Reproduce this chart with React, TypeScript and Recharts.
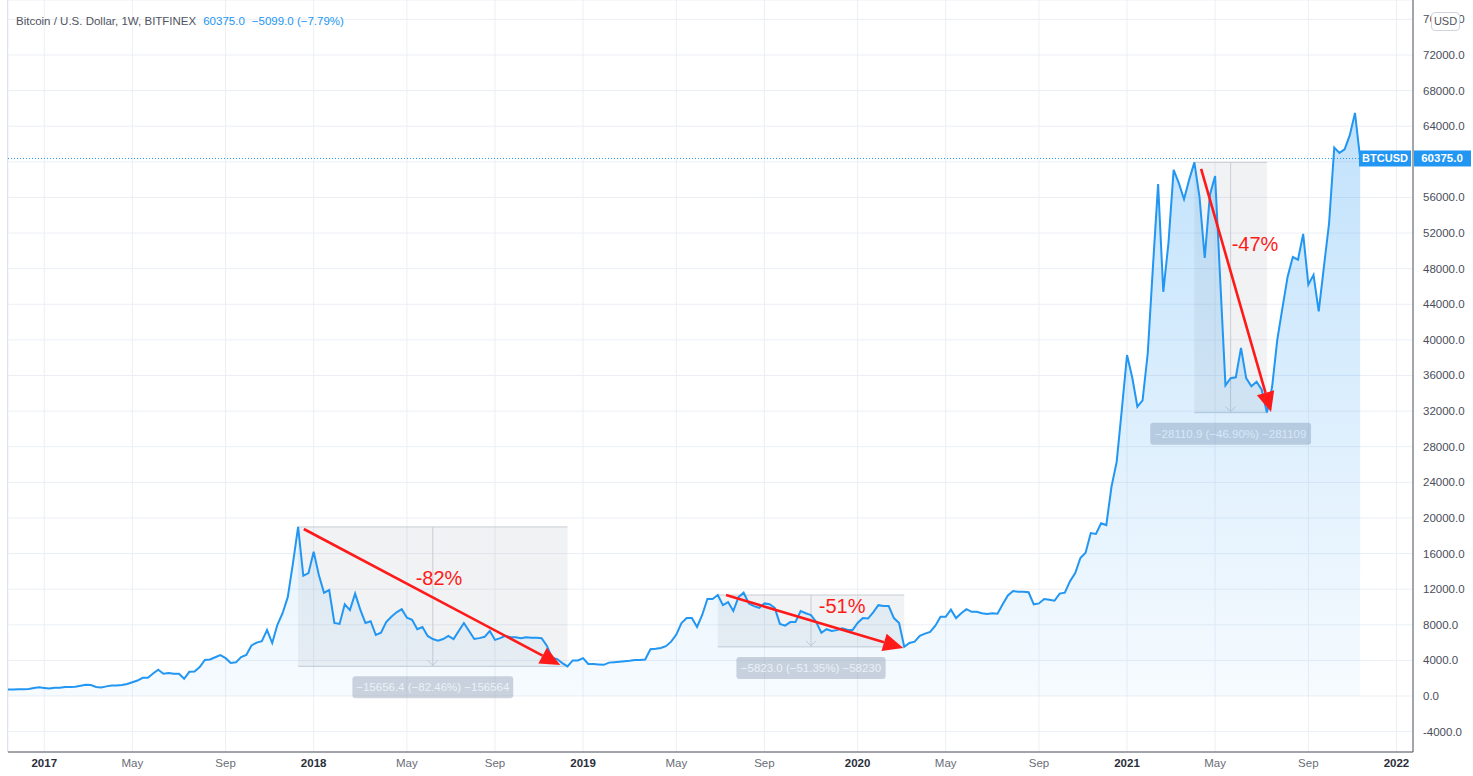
import React from "react";
import {
  ComposedChart,
  Area,
  XAxis,
  YAxis,
  CartesianGrid,
  ReferenceLine,
  ReferenceArea,
  ReferenceDot,
} from "recharts";

// weekly closes, BTC/USD Bitfinex, first bar = week of 14 Nov 2016
const closes = [
  740, 740, 765, 770, 780, 890, 970,
  900, 830, 920, 920, 1010, 1000, 1050,
  1150, 1270, 1230, 1020, 960, 1080, 1180,
  1180, 1240, 1350, 1550, 1740, 2050, 2050,
  2520, 2950, 2500, 2590, 2500, 2500, 1930,
  2720, 2760, 3250, 4050, 4100, 4350, 4590,
  4250, 3700, 3780, 4380, 4600, 5680, 6000,
  6150, 7400, 5950, 8000, 9300, 11100, 14900,
  18989, 13500, 13800, 16200, 13600, 11600, 11900,
  8200, 8100, 10300, 9650, 11500, 9700, 8200,
  8400, 6850, 7100, 8300, 8900, 9400, 9750,
  8800, 8550, 7500, 7750, 6750, 6400, 6200,
  6400, 6750, 6400, 7300, 8200, 7300, 6400,
  6500, 6650, 7300, 6300, 6500, 6750, 6600,
  6600, 6500, 6600, 6550, 6550, 6500, 5650,
  4300, 4150, 3700, 3333, 4000, 4000, 4250,
  3600, 3600, 3550, 3500, 3750, 3800, 3850,
  3900, 3950, 4050, 4050, 4100, 5250, 5300,
  5400, 5600, 6100, 6900, 8200, 8750, 8750,
  7750, 9100, 10900, 10900, 11340, 10200, 10550,
  9550, 11100, 11600, 10400, 10100, 9900, 10400,
  10300, 9900, 8100, 7900, 8300, 8300, 9550,
  9300, 9100, 8300, 7100, 7500, 7300, 7400,
  7600, 7450, 7400, 8200, 8750, 8700, 9400,
  10200, 10100, 10100, 8750, 8200, 5517, 5950,
  6100, 6750, 7000, 7200, 7900, 8900, 8900,
  9700, 8750, 9300, 9750, 9450, 9450, 9300,
  9200, 9300, 9250, 10300, 11300, 11800, 11700,
  11700, 11650, 10300, 10400, 10900, 10800, 10700,
  11500, 11600, 12900, 13800, 15500, 16100, 18300,
  18200, 19400, 19200, 23500, 26300, 32200, 38300,
  35800, 32500, 33200, 38500, 48200, 57500, 45400,
  50900, 59100, 57600, 55800, 58000, 59938, 56000,
  49200, 56300, 58400, 46600, 34900, 35700, 35800,
  39100, 35700, 34800, 35300, 34400, 31827, 34700,
  40000, 43600, 47100, 49300, 49000, 51900, 46200,
  47300, 43200, 48200, 53100, 61600, 61000, 61400,
  63000, 65500, 60375,
];

const tickWeeks = [7, 24, 42, 59, 77, 94, 111, 129, 146, 164, 181, 199, 216, 233, 251, 268];
const tickLabels = ["2017", "May", "Sep", "2018", "May", "Sep", "2019", "May", "Sep", "2020", "May", "Sep", "2021", "May", "Sep", "2022"];

const priceTicks = [
  -4000, 0, 4000, 8000, 12000, 16000, 20000, 24000, 28000, 32000, 36000,
  40000, 44000, 48000, 52000, 56000, 60000, 64000, 68000, 72000, 76000,
];

const lastPrice = 60375;

// price range drawings
const rangeStart = [56, 137, 229];
const rangeEnd = [108, 173, 243];
const rangeHigh = [18989, 11340, 59938];
const rangeLow = [3333, 5517, 31827];
const rangeLabels = [
  "\u221215656.4 (\u221282.46%) \u2212156564",
  "\u22125823.0 (\u221251.35%) \u221258230",
  "\u221228110.9 (\u221246.90%) \u2212281109",
];

// red arrows and their captions
const arrowFrom = [
  { w: 57.1, v: 18760 },
  { w: 138.6, v: 11340 },
  { w: 230.3, v: 59200 },
];
const arrowTo = [
  { w: 106.6, v: 3480 },
  { w: 172.8, v: 5390 },
  { w: 243.8, v: 31900 },
];
const dropLabels = ["-82%", "-51%", "-47%"];
const dropLabelAt = [
  { w: 83.2, v: 12470 },
  { w: 161, v: 9320 },
  { w: 240.7, v: 49980 },
];

const data = closes.map((v, i) => ({ w: i, v }));

const FONT = "'Liberation Sans', Arial, sans-serif";
const BLUE = "#2196f3";
const RED = "#ff1a1a";

function TimeTick({ x, y, payload }: any) {
  const i = tickWeeks.indexOf(payload.value);
  const label = tickLabels[i];
  const isYear = /^\d{4}$/.test(label);
  return (
    <text
      x={x}
      y={y + 4}
      textAnchor="middle"
      fontSize={11.5}
      fontFamily={FONT}
      fontWeight={isYear ? 600 : 400}
      fill={isYear ? "#2a2e39" : "#6a6d78"}
    >
      {label}
    </text>
  );
}

function PriceTick({ x, y, payload }: any) {
  // the last-price badge hides the tick label right under it
  if (Math.abs(payload.value - lastPrice) < 1000) return <g />;
  return (
    <text x={x} y={y + 4} textAnchor="start" fontSize={11.5} fontFamily={FONT} fill="#4a4e5a">
      {payload.value.toFixed(1)}
    </text>
  );
}

function RangeBox(props: any) {
  const { x, y, width, height, label } = props;
  const cx = x + width / 2;
  const bottom = y + height;
  const tw = label.length * 5.8 + 10;
  return (
    <g>
      <rect x={x} y={y} width={width} height={height} fill="rgba(120,123,134,0.1)" />
      <line x1={x} x2={x + width} y1={y} y2={y} stroke="#c8ccd4" />
      <line x1={x} x2={x + width} y1={bottom} y2={bottom} stroke="#c8ccd4" />
      <line x1={cx} x2={cx} y1={y} y2={bottom} stroke="#c8ccd4" />
      <polyline
        points={`${cx - 5},${bottom - 6} ${cx},${bottom - 1} ${cx + 5},${bottom - 6}`}
        fill="none"
        stroke="#c8ccd4"
      />
      <rect x={cx - tw / 2} y={bottom + 10} width={tw} height={22} rx={3} fill="rgba(150,160,178,0.45)" />
      <text
        x={cx}
        y={bottom + 25}
        textAnchor="middle"
        fontSize={11.5}
        fontFamily={FONT}
        fill="#f4f6f9"
      >
        {label}
      </text>
    </g>
  );
}

function Arrow(props: any) {
  const { x1, y1, x2, y2 } = props;
  const dx = x2 - x1;
  const dy = y2 - y1;
  const len = Math.hypot(dx, dy);
  const ux = dx / len;
  const uy = dy / len;
  const hl = 20;
  const hw = 9;
  const bx = x2 - ux * hl;
  const by = y2 - uy * hl;
  return (
    <g>
      <line x1={x1} y1={y1} x2={bx} y2={by} stroke={RED} strokeWidth={2.6} />
      <polygon
        points={`${x2},${y2} ${bx - uy * hw},${by + ux * hw} ${bx + uy * hw},${by - ux * hw}`}
        fill={RED}
      />
    </g>
  );
}

function PriceLine(props: any) {
  const left = Math.min(props.x1, props.x2);
  const right = Math.max(props.x1, props.x2);
  const y = props.y1;
  return (
    <g>
      <line x1={left} x2={right - 54} y1={y} y2={y} stroke={BLUE} strokeWidth={1} strokeDasharray="1 2" />
      <rect x={right - 54} y={y - 8} width={52} height={16} fill={BLUE} />
      <text x={right - 28} y={y + 4} textAnchor="middle" fontSize={11} fontWeight={700} fontFamily={FONT} fill="#fff">
        BTCUSD
      </text>
      <rect x={right + 1} y={y - 8} width={57} height={16} fill={BLUE} />
      <text x={right + 29} y={y + 4} textAnchor="middle" fontSize={11.5} fontWeight={700} fontFamily={FONT} fill="#fff">
        {lastPrice.toFixed(1)}
      </text>
    </g>
  );
}

export default function App() {
  return (
    <div style={{ position: "absolute", left: 0, top: 0, width: 1473, height: 776, background: "#fff", overflow: "hidden" }}>
      <ComposedChart width={1473} height={776} data={data} margin={{ top: 0, right: 0, bottom: 0, left: 8 }}>
        <defs>
          <linearGradient id="btcFill" x1="0" y1="0" x2="0" y2="1">
            <stop offset="0%" stopColor={BLUE} stopOpacity={0.28} />
            <stop offset="100%" stopColor={BLUE} stopOpacity={0.04} />
          </linearGradient>
        </defs>
        <CartesianGrid stroke="#ebeff5" />
        <XAxis
          dataKey="w"
          type="number"
          domain={[0, 271.2]}
          allowDataOverflow
          ticks={tickWeeks}
          interval={0}
          height={24}
          tickLine={false}
          tickSize={0}
          tickMargin={11}
          axisLine={{ stroke: "#50535e" }}
          tick={<TimeTick />}
        />
        <YAxis
          orientation="right"
          type="number"
          domain={[-6290, 78176]}
          allowDataOverflow
          ticks={priceTicks}
          interval={0}
          width={60}
          tickLine={false}
          tickSize={0}
          tickMargin={10}
          axisLine={{ stroke: "#50535e" }}
          tick={<PriceTick />}
        />
        {rangeStart.map((s, i) => (
          <ReferenceArea
            key={"r" + i}
            x1={s}
            x2={rangeEnd[i]}
            y1={rangeLow[i]}
            y2={rangeHigh[i]}
            shape={(p: any) => <RangeBox {...p} label={rangeLabels[i]} />}
          />
        ))}
        <Area
          type="linear"
          dataKey="v"
          stroke={BLUE}
          strokeWidth={2}
          fill="url(#btcFill)"
          fillOpacity={1}
          dot={false}
          activeDot={false}
          isAnimationActive={false}
        />
        <ReferenceLine y={lastPrice} shape={(p: any) => <PriceLine {...p} />} />
        {arrowFrom.map((a, i) => (
          <ReferenceLine
            key={"a" + i}
            segment={[
              { x: a.w, y: a.v },
              { x: arrowTo[i].w, y: arrowTo[i].v },
            ]}
            shape={(p: any) => <Arrow {...p} />}
          />
        ))}
        {dropLabels.map((t, i) => (
          <ReferenceDot
            key={"t" + i}
            x={dropLabelAt[i].w}
            y={dropLabelAt[i].v}
            r={0}
            shape={(p: any) => (
              <text x={p.cx} y={p.cy} textAnchor="middle" fontSize={20} fontFamily={FONT} fill={RED}>
                {t}
              </text>
            )}
          />
        ))}
      </ComposedChart>
      <div style={{ position: "absolute", left: 7, top: 0, width: 1, height: 752, background: "#e0e3eb" }} />
      <div
        style={{
          position: "absolute",
          left: 16,
          top: 13,
          fontFamily: FONT,
          fontSize: 11.5,
          whiteSpace: "nowrap",
          lineHeight: "16px",
        }}
      >
        <span style={{ color: "#50535e" }}>Bitcoin / U.S. Dollar, 1W, BITFINEX</span>
        <span style={{ color: BLUE, marginLeft: 7 }}>60375.0</span>
        <span style={{ color: BLUE, marginLeft: 7 }}>{"\u22125099.0 (\u22127.79%)"}</span>
      </div>
      <div
        style={{
          position: "absolute",
          left: 1431,
          top: 12,
          width: 27,
          height: 17,
          border: "1px solid #d1d4dc",
          borderRadius: 4,
          background: "#fff",
          fontFamily: FONT,
          fontSize: 11,
          color: "#50535e",
          lineHeight: "17px",
          textAlign: "center",
        }}
      >
        USD
      </div>
    </div>
  );
}
